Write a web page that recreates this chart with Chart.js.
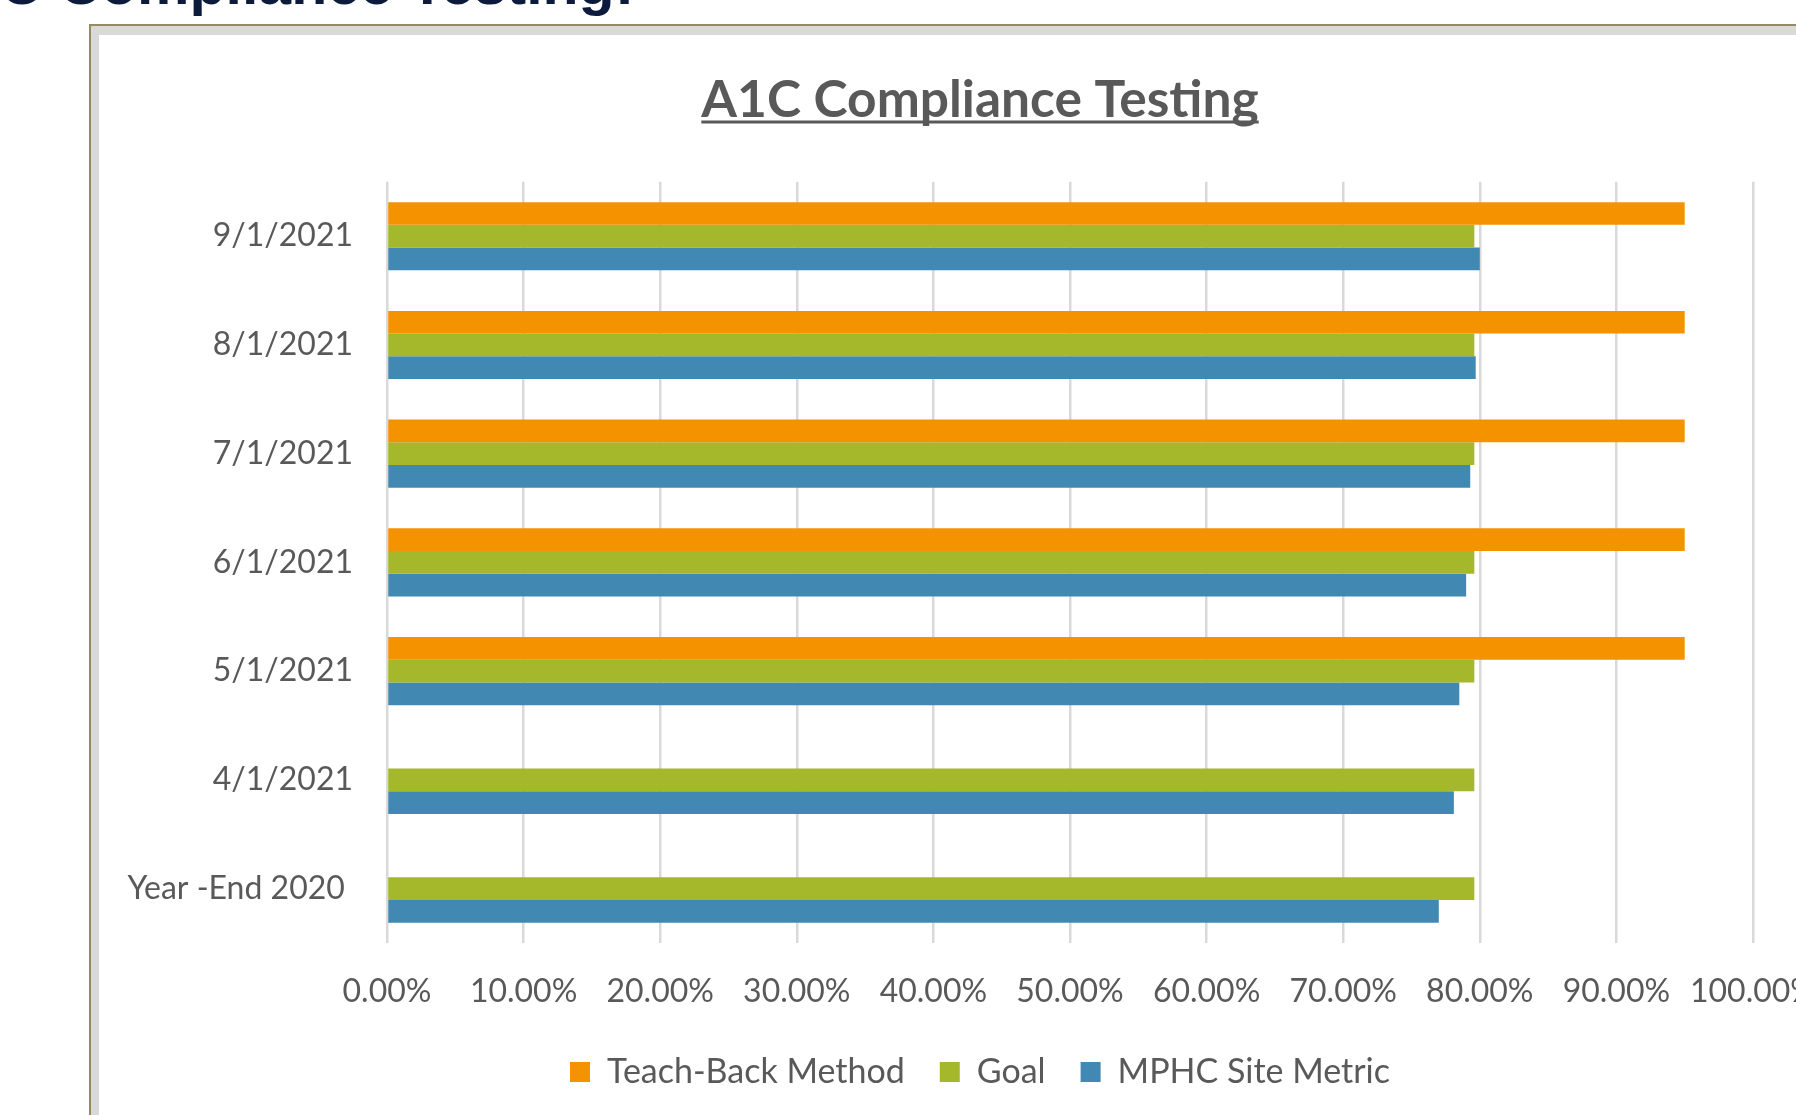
<!DOCTYPE html>
<html><head><meta charset="utf-8">
<script src="https://cdn.jsdelivr.net/npm/chart.js@4.4.1/dist/chart.umd.min.js"></script>
<style>
html,body{margin:0;padding:0;width:1796px;height:1115px;overflow:hidden;background:#fff;}
#slideTitle{position:absolute;left:-76px;top:-45px;font:bold 59px "Liberation Sans",Arial,sans-serif;line-height:59px;color:#0c1a3c;white-space:nowrap;}
#frame{position:absolute;left:89px;top:24px;width:1900px;height:1300px;border-left:2px solid #968c5b;border-top:2px solid #968c5b;background:#d9d9d9;}
#inner{position:absolute;left:99px;top:35px;width:1900px;height:1300px;background:#fff;}
canvas{position:absolute;left:0;top:0;}
</style></head><body>
<div id="slideTitle">A1C Compliance Testing:</div>
<div id="frame"></div>
<div id="inner"><canvas id="c" width="1762" height="1064"></canvas></div>
<script>
const categories = ['9/1/2021','8/1/2021','7/1/2021','6/1/2021','5/1/2021','4/1/2021','Year -End 2020 '];
const teachBackMethod = [95.0, 95.0, 95.0, 95.0, 95.0, null, null];
const goal = [79.6, 79.6, 79.6, 79.6, 79.6, 79.6, 79.6];
const mphcSiteMetric = [80.0, 79.7, 79.3, 79.0, 78.5, 78.1, 77.0];
const seriesNames = ['Teach-Back Method', 'Goal', 'MPHC Site Metric'];
const chartTitle = 'A1C Compliance Testing';

const TITLE_SIZE = 51.5;
const TITLE_FONT = 'bold ' + TITLE_SIZE + 'px Lato';
const underline = {
  id: 'underline',
  afterLayout(chart) {
    // let the category labels extend left of the axis box without being clipped
    const y = chart.scales.y;
    if (y) y.left = 0;
  },
  afterDraw(chart) {
    const tb = chart.titleBlock; if (!tb) return;
    const ctx = chart.ctx;
    ctx.save();
    ctx.font = TITLE_FONT;
    ctx.textBaseline = 'middle';
    const w = ctx.measureText(chartTitle).width;
    const mA = ctx.measureText('A');
    const mid = tb.top + 34 + TITLE_SIZE * 0.6;
    const base = mid + mA.actualBoundingBoxDescent;
    const cx = (tb.left + tb.right) / 2;
    ctx.fillStyle = '#595959';
    ctx.fillRect(cx - w / 2, base + 4, w, 3);
    ctx.restore();
  }
};

Chart.defaults.font.family = 'Lato';
new Chart(document.getElementById('c'), {
  type: 'bar',
  data: {
    labels: categories,
    datasets: [
      {label: seriesNames[0], data: teachBackMethod, backgroundColor: '#F59200'},
      {label: seriesNames[1], data: goal, backgroundColor: '#A5B72B'},
      {label: seriesNames[2], data: mphcSiteMetric, backgroundColor: '#4188B3'}
    ]
  },
  options: {
    indexAxis: 'y',
    responsive: false,
    animation: false,
    datasets: {bar: {categoryPercentage: 0.626, barPercentage: 1, borderWidth: 0}},
    layout: {padding: {left: 108, right: 108, top: 0, bottom: 0}},
    scales: {
      x: {
        min: 0, max: 100,
        ticks: {stepSize: 10, callback: v => Number(v).toFixed(2) + '%', font: {size: 32}, color: '#595959', padding: 29, maxRotation: 0, autoSkip: false},
        grid: {color: '#d9d9d9', lineWidth: 2.5, drawTicks: false},
        border: {display: false},
        afterFit: s => { s.height = 77; }
      },
      y: {
        ticks: {font: {size: 32}, color: '#595959', padding: 26},
        grid: {display: false},
        border: {display: false},
        afterFit: s => { s.width = 180; }
      }
    },
    plugins: {
      title: {display: true, text: chartTitle, font: {size: TITLE_SIZE, weight: 'bold'}, color: '#595959', padding: {top: 34, bottom: 51}},
      legend: {position: 'bottom', labels: {boxWidth: 20, boxHeight: 20, padding: 35, font: {size: 34}, color: '#595959'}},
      tooltip: {enabled: false}
    }
  },
  plugins: [underline]
});
</script>
</body></html>
